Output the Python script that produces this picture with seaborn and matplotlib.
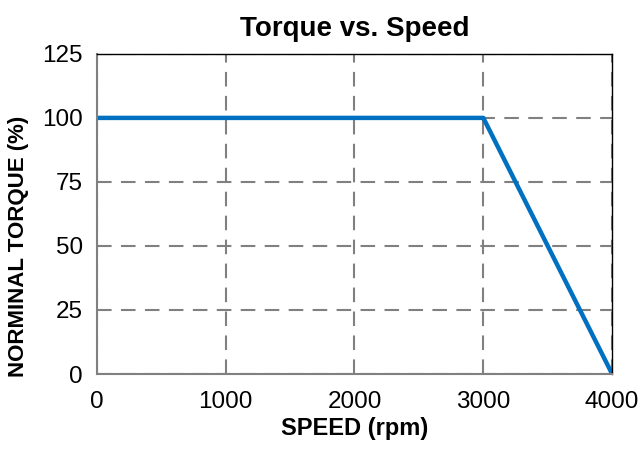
import matplotlib
matplotlib.use('Agg')
import matplotlib.pyplot as plt
import seaborn as sns
import pandas as pd

speed = [0, 3000, 4000]
torque = [100, 100, 0]
x_ticks = [0, 1000, 2000, 3000, 4000]
y_ticks = [0, 25, 50, 75, 100, 125]

sns.set_style("white")
plt.rcParams['font.family'] = ['Liberation Sans', 'DejaVu Sans']
plt.rcParams['text.color'] = 'black'
plt.rcParams['axes.labelcolor'] = 'black'
plt.rcParams['xtick.color'] = 'black'
plt.rcParams['ytick.color'] = 'black'

data = pd.DataFrame({'speed': speed, 'torque': torque})

fig = plt.figure(figsize=(6.41, 4.49), dpi=100)
ax = fig.add_axes([0.151, 0.167, 0.804, 0.713])

sns.lineplot(data=data, x='speed', y='torque', color='#0070C0', linewidth=3.2, ax=ax)

ax.set_xlim(0, 4000)
ax.set_ylim(0, 125)
ax.set_xticks(x_ticks)
ax.set_yticks(y_ticks)
ax.grid(True, color='#808080', linestyle=(0, (7, 4.5)), linewidth=1.5)
ax.set_axisbelow(True)
ax.tick_params(length=0, labelsize=17.5)
ax.tick_params(axis='x', pad=12)
ax.tick_params(axis='y', pad=10)

for side in ['left', 'bottom']:
    ax.spines[side].set_color('#808080')
    ax.spines[side].set_linewidth(1.5)
for side in ['top', 'right']:
    ax.spines[side].set_color('black')
    ax.spines[side].set_linewidth(1.0)

ax.set_title('Torque vs. Speed', fontsize=20, fontweight='bold', pad=13)
ax.set_xlabel('SPEED (rpm)', fontsize=17, fontweight='bold', labelpad=3)
ax.set_ylabel('NORMINAL TORQUE (%)', fontsize=16, fontweight='bold')
# label in the original sits below the axes centre
ax.yaxis.set_label_coords(-0.132, 0.40)

fig.savefig('out.png', dpi=100)
